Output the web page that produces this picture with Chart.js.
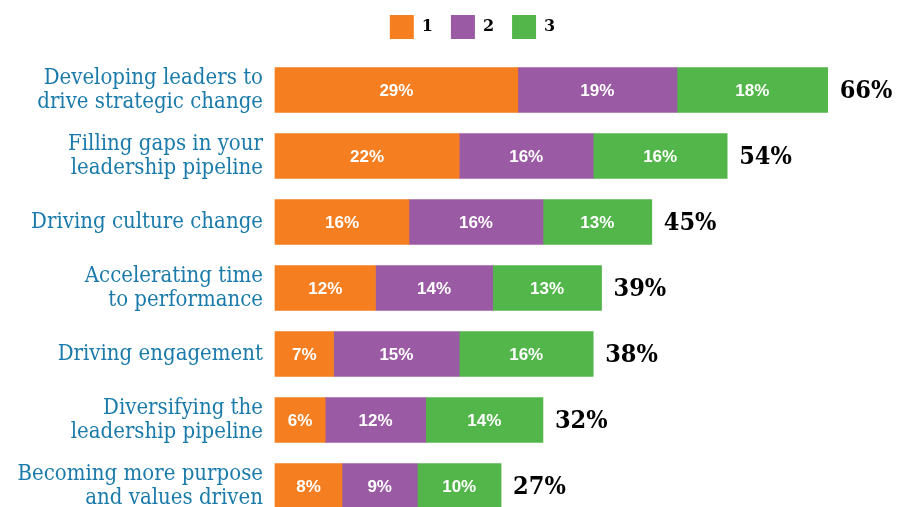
<!DOCTYPE html>
<html>
<head>
<meta charset="utf-8">
<script src="https://cdn.jsdelivr.net/npm/chart.js@4"></script>
<style>
  html, body { margin: 0; padding: 0; background: #fff; }
  #wrap { width: 903px; height: 507px; }
</style>
</head>
<body>
<div id="wrap"><canvas id="barChart"></canvas></div>
<script>
// categories (two-line labels)
var categories = [
  ["Developing leaders to", "drive strategic change"],
  ["Filling gaps in your", "leadership pipeline"],
  ["Driving culture change"],
  ["Accelerating time", "to performance"],
  ["Driving engagement"],
  ["Diversifying the", "leadership pipeline"],
  ["Becoming more purpose", "and values driven"]
];

var seriesNames = ["1", "2", "3"];
var values1 = [29, 22, 16, 12, 7, 6, 8];
var values2 = [19, 16, 16, 14, 15, 12, 9];
var values3 = [18, 16, 13, 13, 16, 14, 10];
var totals = [66, 54, 45, 39, 38, 32, 27];

var colors = ["#f47e20", "#9b5aa4", "#53b64a"];

// draws the % inside each segment and the total at the end of each bar
var labelPlugin = {
  id: "barLabels",
  afterInit: function(chart) {
    var fit = chart.legend.fit;
    chart.legend.fit = function() {
      fit.bind(chart.legend)();
      this.height = 93;
    };
  },
  afterLayout: function(chart) {
    // legend sits a bit right of the canvas centre
    chart.legend.left = 42;
  },
  afterDatasetsDraw: function(chart) {
    var ctx = chart.ctx;
    ctx.save();
    ctx.textBaseline = "middle";
    ctx.textAlign = "center";
    ctx.fillStyle = "#ffffff";
    ctx.font = "bold 17px 'Liberation Sans', sans-serif";
    chart.data.datasets.forEach(function(ds, d) {
      var meta = chart.getDatasetMeta(d);
      meta.data.forEach(function(bar, i) {
        var cx = (bar.x + bar.base) / 2;
        ctx.fillText(ds.data[i] + "%", cx, bar.y + 1);
      });
    });
    var last = chart.getDatasetMeta(chart.data.datasets.length - 1);
    ctx.textAlign = "left";
    ctx.fillStyle = "#000000";
    ctx.font = "bold 25px 'DejaVu Serif Condensed', 'DejaVu Serif', serif";
    last.data.forEach(function(bar, i) {
      ctx.fillText(totals[i] + "%", bar.x + 12, bar.y + 1);
    });
    ctx.restore();
  }
};

var myChart = document.getElementById("barChart");

var myBarChart = new Chart(myChart, {
  type: "bar",
  data: {
    labels: categories,
    datasets: [
      { label: seriesNames[0], data: values1, backgroundColor: colors[0] },
      { label: seriesNames[1], data: values2, backgroundColor: colors[1] },
      { label: seriesNames[2], data: values3, backgroundColor: colors[2] }
    ]
  },
  options: {
    indexAxis: "y",
    responsive: true,
    maintainAspectRatio: false,
    animation: false,
    layout: { padding: { top: -3, left: 0, right: 0, bottom: 21 } },
    datasets: { bar: { barThickness: 45, borderWidth: 0, clip: false } },
    scales: {
      x: {
        stacked: true,
        display: false,
        min: 0,
        max: 75
      },
      y: {
        stacked: true,
        offset: false,
        grid: { display: false, drawTicks: false },
        border: { display: false },
        afterFit: function(scale) {
          scale.width = 275;
          scale.paddingTop = 0;
          scale.paddingBottom = 0;
        },
        ticks: {
          padding: 12,
          color: "#1a7bab",
          font: { family: "'DejaVu Serif Condensed', 'DejaVu Serif', serif", size: 22, lineHeight: 1.1 }
        }
      }
    },
    plugins: {
      tooltip: { enabled: false },
      legend: {
        position: "top",
        labels: {
          boxWidth: 24,
          boxHeight: 24,
          padding: 18,
          color: "#000",
          font: { family: "'DejaVu Serif', serif", size: 16, weight: "bold" }
        }
      }
    }
  },
  plugins: [labelPlugin]
});
</script>
</body>
</html>
